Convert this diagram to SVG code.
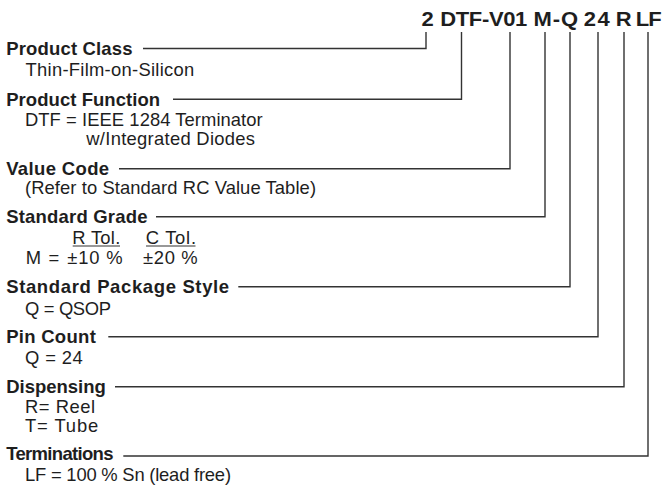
<svg xmlns="http://www.w3.org/2000/svg" width="664" height="485" viewBox="0 0 664 485">
<style>
text{font-family:"Liberation Sans",Arial,Helvetica,sans-serif;fill:#1e1e1e}
.code{font-size:22px;font-weight:bold}
.lbl{font-size:18.5px;font-weight:bold}
.sub{font-size:18.4px}
.ul{stroke:#333;stroke-width:1.2;fill:none}
.conn path{stroke:#333;stroke-width:1.4;fill:none}
</style>
<rect width="664" height="485" fill="#ffffff"/>
<g id="code" transform="translate(0,25.5) scale(1,0.89)">
<text class="code" x="421.5" y="0">2</text>
<text class="code" x="440.3" y="0" textLength="87" lengthAdjust="spacing">DTF-V01</text>
<text class="code" x="533.6" y="0" textLength="44.5" lengthAdjust="spacing">M-Q</text>
<text class="code" x="583.8" y="0" textLength="26" lengthAdjust="spacing">24</text>
<text class="code" x="615.8" y="0">R</text>
<text class="code" x="635.8" y="0" textLength="26" lengthAdjust="spacing">LF</text>
</g>
<g class="conn" id="connectors">
<path d="M143,48.5H426V32"/>
<path d="M173,99.3H461.5V32"/>
<path d="M119,168.7H510V32"/>
<path d="M156,216.7H545V32"/>
<path d="M238.3,286.7H570V32"/>
<path d="M108.3,336.7H598V32"/>
<path d="M115,386.7H624V32"/>
<path d="M123.3,456H648V32"/>
</g>
<g id="product-class">
<text class="lbl" x="6.2" y="55" textLength="126.3" lengthAdjust="spacing">Product Class</text>
<text class="sub" x="25.5" y="76" textLength="168.8" lengthAdjust="spacing">Thin-Film-on-Silicon</text>
</g>
<g id="product-function">
<text class="lbl" x="6.2" y="105.5" textLength="153.9" lengthAdjust="spacing">Product Function</text>
<text class="sub" x="25" y="126" textLength="237.7" lengthAdjust="spacing">DTF = IEEE 1284 Terminator</text>
<text class="sub" x="86.3" y="145" textLength="168.7" lengthAdjust="spacing">w/Integrated Diodes</text>
</g>
<g id="value-code">
<text class="lbl" x="6.2" y="175" textLength="102.9" lengthAdjust="spacing">Value Code</text>
<text class="sub" x="25" y="193.5" textLength="291" lengthAdjust="spacing">(Refer to Standard RC Value Table)</text>
</g>
<g id="standard-grade">
<text class="lbl" x="6.2" y="223" textLength="141.3" lengthAdjust="spacing">Standard Grade</text>
<text class="sub" x="72.3" y="243.5" textLength="48" lengthAdjust="spacing">R Tol.</text>
<text class="sub" x="145.7" y="243.5" textLength="50.3" lengthAdjust="spacing">C Tol.</text>
<path class="ul" d="M72.7,246H120M146,246H195.5"/>
<text class="sub" x="25.7" y="264" textLength="33.6" lengthAdjust="spacing">M =</text>
<text class="sub" x="67.3" y="264" textLength="55.4" lengthAdjust="spacing">±10 %</text>
<text class="sub" x="143" y="264" textLength="54.7" lengthAdjust="spacing">±20 %</text>
</g>
<g id="package-style">
<text class="lbl" x="6.2" y="293" textLength="222.9" lengthAdjust="spacing">Standard Package Style</text>
<text class="sub" x="25" y="315" textLength="86" lengthAdjust="spacing">Q = QSOP</text>
</g>
<g id="pin-count">
<text class="lbl" x="6.2" y="343" textLength="89.6" lengthAdjust="spacing">Pin Count</text>
<text class="sub" x="25" y="363.5" textLength="57.7" lengthAdjust="spacing">Q = 24</text>
</g>
<g id="dispensing">
<text class="lbl" x="6.2" y="393" textLength="99.6" lengthAdjust="spacing">Dispensing</text>
<text class="sub" x="25" y="412.7" textLength="70" lengthAdjust="spacing">R=  Reel</text>
<text class="sub" x="25" y="431.7" textLength="73.3" lengthAdjust="spacing">T=  Tube</text>
</g>
<g id="terminations">
<text class="lbl" x="6.2" y="460" textLength="107.3" lengthAdjust="spacing">Terminations</text>
<text class="sub" x="25" y="480.5" textLength="206" lengthAdjust="spacing">LF = 100 % Sn (lead free)</text>
</g>
</svg>
